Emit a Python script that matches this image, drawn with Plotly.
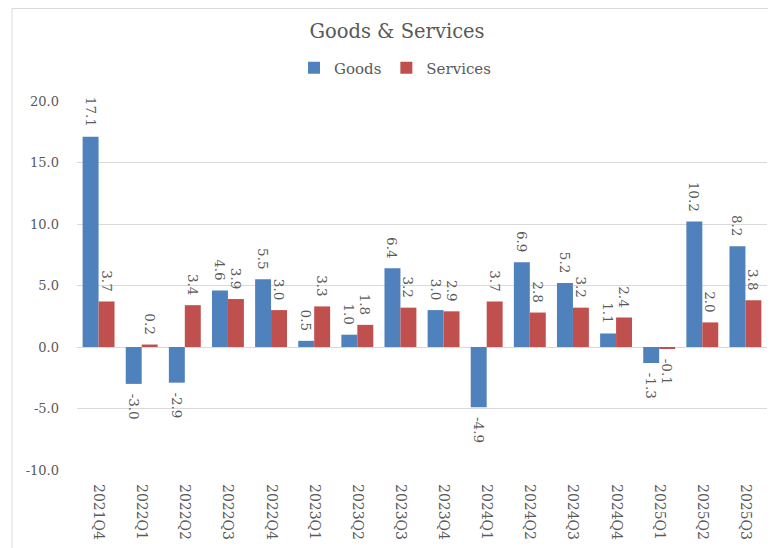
import plotly.graph_objects as go

categories = ["2021Q4", "2022Q1", "2022Q2", "2022Q3", "2022Q4", "2023Q1", "2023Q2", "2023Q3",
              "2023Q4", "2024Q1", "2024Q2", "2024Q3", "2024Q4", "2025Q1", "2025Q2", "2025Q3"]
goods = [17.1, -3.0, -2.9, 4.6, 5.5, 0.5, 1.0, 6.4, 3.0, -4.9, 6.9, 5.2, 1.1, -1.3, 10.2, 8.2]
services = [3.7, 0.2, 3.4, 3.9, 3.0, 3.3, 1.8, 3.2, 2.9, 3.7, 2.8, 3.2, 2.4, -0.1, 2.0, 3.8]
y_ticks = [-10, -5, 0, 5, 10, 15, 20]

FONT = "DejaVu Serif"
GREY = "#595959"
PAD = "\u2002"


def label(v):
    s = f"{v:.1f}"
    return PAD + s if v < 0 else s + PAD


fig = go.Figure()
for name, vals, color in [("Goods", goods, "#4F81BD"), ("Services", services, "#C0504D")]:
    fig.add_trace(go.Bar(
        name=name, x=categories, y=vals, marker=dict(color=color, line=dict(width=0)),
        text=[label(v) for v in vals], textposition="outside", textangle=90,
        constraintext="none", cliponaxis=False,
        textfont=dict(family=FONT, size=13.5, color=GREY),
    ))

OFF = 8  # page body margin
W, H = 776 - OFF, 548 - OFF
L, T = 77 - OFF, 101 - OFF
R = W - (767 - OFF)
B = H - (470 - OFF)
pw, ph = W - L - R, H - T - B


def px_x(x):
    return (x - OFF - L) / pw


def px_y(y):
    return 1 - (y - OFF - T) / ph


fig.update_layout(
    width=W, height=H, margin=dict(l=L, r=R, t=T, b=B),
    paper_bgcolor="white", plot_bgcolor="white",
    barmode="group", bargap=0.26, bargroupgap=0,
    font=dict(family=FONT, color=GREY),
    title=dict(text="Goods & Services", x=(397 - OFF) / W, xanchor="center",
               y=1 - (31 - OFF) / H, yanchor="middle",
               font=dict(family=FONT, size=19.5, color=GREY)),
    legend=dict(orientation="h", x=px_x(395), xanchor="center", y=px_y(68), yanchor="middle",
                font=dict(family=FONT, size=15, color=GREY), itemwidth=30, traceorder="normal"),
    xaxis=dict(tickangle=90, tickfont=dict(family=FONT, size=14, color=GREY), showgrid=False,
               showline=False, ticks="", type="category", ticklabelstandoff=13),
    yaxis=dict(range=[-10, 20], tickvals=y_ticks, ticktext=[f"{v:.1f}" for v in y_ticks],
               tickfont=dict(family=FONT, size=13, color=GREY), showgrid=True, gridcolor="#D9D9D9",
               gridwidth=1, zeroline=True, zerolinecolor="#D9D9D9", zerolinewidth=1, ticks="",
               ticklabelstandoff=17, showline=False),
    shapes=[
        dict(type="line", xref="paper", yref="paper", x0=px_x(12), x1=1.05, y0=px_y(8.5),
             y1=px_y(8.5), line=dict(color="#D9D9D9", width=1)),
        dict(type="line", xref="paper", yref="paper", x0=px_x(12), x1=px_x(12), y0=-0.3,
             y1=px_y(8.5), line=dict(color="#D9D9D9", width=1)),
    ],
)
fig.write_html("out.html")
